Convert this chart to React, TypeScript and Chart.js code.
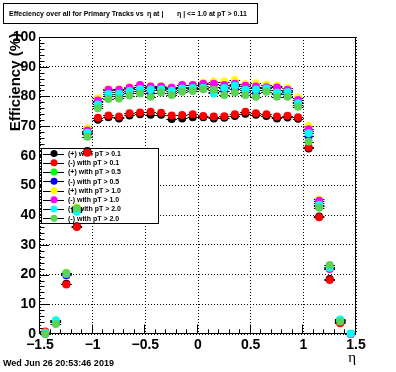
import { useEffect, useRef } from "react";
import { Chart, registerables } from "chart.js";

Chart.register(...registerables);

// ---- data ----
const etaBins = [
  -1.45, -1.35, -1.25, -1.15, -1.05, -0.95, -0.85, -0.75, -0.65, -0.55,
  -0.45, -0.35, -0.25, -0.15, -0.05, 0.05, 0.15, 0.25, 0.35, 0.45,
  0.55, 0.65, 0.75, 0.85, 0.95, 1.05, 1.15, 1.25, 1.35, 1.45,
];
const binHalfWidth = 0.05;

const effPosPt01 = [0.6, 4.2, 16.9, 36.3, 61.6, 72.1, 73.0, 72.6, 73.6, 74.0, 73.8, 73.8, 72.4, 72.6, 73.0, 73.0, 72.6, 72.8, 73.4, 74.2, 73.8, 73.4, 72.6, 72.9, 72.5, 62.5, 39.6, 18.5, 3.9, 0.0];
const effNegPt01 = [0.8, 4.0, 16.7, 36.0, 61.0, 72.8, 73.6, 73.2, 74.3, 74.6, 74.8, 74.5, 73.6, 73.7, 74.0, 73.4, 73.2, 73.3, 74.0, 74.8, 74.3, 74.0, 73.2, 73.5, 73.0, 62.9, 39.3, 18.2, 3.6, 0.0];
const effPosPt05 = [0.2, 4.3, 20.4, 41.8, 68.0, 78.0, 81.6, 81.6, 82.4, 83.2, 82.8, 82.8, 82.4, 83.2, 83.3, 83.6, 83.0, 83.3, 84.0, 82.9, 82.8, 82.9, 82.2, 81.8, 78.2, 68.2, 44.2, 22.0, 4.7, 0.0];
const effNegPt05 = [0.1, 4.0, 19.8, 41.5, 67.2, 76.8, 80.2, 80.3, 81.2, 81.9, 81.3, 82.0, 81.3, 82.3, 82.4, 82.7, 81.5, 81.8, 82.6, 81.4, 81.2, 82.2, 80.7, 80.8, 77.2, 66.5, 43.0, 22.6, 4.5, 0.0];
const effPosPt10 = [0.5, 4.6, 20.6, 42.6, 69.3, 79.4, 82.4, 82.4, 83.1, 83.8, 83.5, 83.4, 83.1, 83.9, 83.9, 84.6, 85.0, 85.0, 85.5, 84.2, 84.4, 84.0, 83.6, 82.8, 79.6, 70.0, 45.3, 22.6, 4.8, 0.0];
const effNegPt10 = [0.4, 4.4, 20.2, 42.0, 68.5, 78.6, 82.2, 82.2, 82.9, 83.8, 83.3, 83.3, 82.9, 83.8, 83.8, 84.3, 84.3, 83.8, 84.3, 83.6, 83.3, 83.1, 83.0, 82.2, 78.8, 68.9, 44.9, 21.9, 4.6, 0.0];
const effPosPt20 = [0.3, 4.6, 20.3, 41.2, 67.8, 77.3, 80.8, 80.9, 81.8, 82.5, 82.3, 82.4, 81.9, 82.7, 82.8, 82.9, 81.0, 82.8, 83.6, 82.2, 82.3, 82.7, 81.3, 81.5, 77.7, 67.6, 43.5, 22.3, 4.9, 0.2];
const effNegPt20: (number | null)[] = [0.0, 3.4, 20.5, 42.3, 66.4, 76.0, 79.1, 79.3, 80.3, 81.0, 79.9, 81.3, 80.5, 81.6, 81.8, 82.4, 82.2, 80.5, 81.3, 80.5, 79.9, 81.6, 79.9, 79.9, 76.5, 64.8, 42.5, 23.2, 4.2, null];

const seriesValues = [effPosPt01, effNegPt01, effPosPt05, effNegPt05, effPosPt10, effNegPt10, effPosPt20, effNegPt20];
const seriesLabels = [
  "(+) with pT > 0.1", "(-) with pT > 0.1",
  "(+) with pT > 0.5", "(-) with pT > 0.5",
  "(+) with pT > 1.0", "(-) with pT > 1.0",
  "(+) with pT > 2.0", "(-) with pT > 2.0",
];
const seriesColors = ["#000000", "#ff0000", "#00ff00", "#0000ff", "#ffff00", "#ff00ff", "#00ffff", "#59d454"];

const xTicks = [-1.5, -1, -0.5, 0, 0.5, 1, 1.5];
const yTicks = [0, 10, 20, 30, 40, 50, 60, 70, 80, 90, 100];

const titleMain = "Effeciency over all for Primary Tracks vs";
const titleEta1 = "\u03b7 at |";
const titleEta2 = "\u03b7 | <= 1.0 at pT > 0.11";
const yTitle = "Efficiency (%)";
const xTitle = "\u03b7";
const dateText = "Wed Jun 26 20:53:46 2019";

const FONT = '"Liberation Sans", Arial, Helvetica, sans-serif';
const SERIF = '"Liberation Serif", "DejaVu Serif", serif';

const fmtTick = (v: number) => (v < 0 ? "\u2212" + String(Math.abs(v)) : String(v));

const rootPlugin = {
  id: "rootDecor",
  beforeDatasetsDraw(chart: any) {
    const ctx = chart.ctx as CanvasRenderingContext2D;
    const { left, right, top, bottom } = chart.chartArea;
    const xs = chart.scales.x;
    const ys = chart.scales.y;
    ctx.save();
    ctx.setLineDash([]);
    ctx.strokeStyle = "#000";
    ctx.lineWidth = 1;
    ctx.strokeRect(Math.round(left) - 0.5, Math.round(top) + 0.5, Math.round(right - left), Math.round(bottom - top) - 1);
    // y ticks
    ctx.beginPath();
    for (let v = 0; v <= 100; v += 2) {
      const y = Math.round(ys.getPixelForValue(v)) + 0.5;
      const len = v % 10 === 0 ? 9 : 4.5;
      ctx.moveTo(left, y);
      ctx.lineTo(left + len, y);
    }
    // x ticks
    for (let k = -15; k <= 15; k++) {
      const x = Math.round(xs.getPixelForValue(k / 10)) - 0.5;
      const len = k % 5 === 0 ? 9.5 : 4.7;
      ctx.moveTo(x, bottom);
      ctx.lineTo(x, bottom - len);
    }
    ctx.stroke();

    // legend box (drawn before the markers, like the original)
    const bx = 41, by = 148, bw = 117, bh = 75;
    ctx.fillStyle = "#fff";
    ctx.fillRect(bx, by, bw, bh);
    ctx.strokeRect(bx + 0.5, by + 0.5, bw, bh);
    ctx.font = `bold 7px ${FONT}`;
    ctx.textBaseline = "middle";
    ctx.textAlign = "left";
    seriesLabels.forEach((lab, i) => {
      const yy = by + 5.5 + i * 9.25;
      ctx.beginPath();
      ctx.moveTo(43, Math.round(yy) + 0.5);
      ctx.lineTo(64, Math.round(yy) + 0.5);
      ctx.strokeStyle = "#000";
      ctx.stroke();
      ctx.beginPath();
      ctx.arc(54, yy, 3.5, 0, Math.PI * 2);
      ctx.fillStyle = seriesColors[i];
      ctx.fill();
      ctx.fillStyle = "#000";
      ctx.fillText(lab, 68, yy + 0.5);
    });
    ctx.restore();
  },
  beforeDatasetDraw(chart: any, args: any) {
    const ctx = chart.ctx as CanvasRenderingContext2D;
    const xs = chart.scales.x;
    const ds = chart.data.datasets[args.index];
    const meta = args.meta;
    ctx.save();
    ctx.strokeStyle = "#000";
    ctx.lineWidth = 1;
    ctx.beginPath();
    meta.data.forEach((el: any, j: number) => {
      const pt = ds.data[j];
      const y = Math.round(el.y) + 0.5;
      ctx.moveTo(xs.getPixelForValue(pt.x - binHalfWidth), y);
      ctx.lineTo(xs.getPixelForValue(pt.x + binHalfWidth), y);
    });
    ctx.stroke();
    ctx.restore();
  },
  afterDraw(chart: any) {
    const ctx = chart.ctx as CanvasRenderingContext2D;
    ctx.save();
    // title box
    ctx.strokeStyle = "#000";
    ctx.lineWidth = 1;
    ctx.fillStyle = "#fff";
    ctx.fillRect(3, 3, 254, 20);
    ctx.strokeRect(3.5, 3.5, 254, 20);
    ctx.fillStyle = "#000";
    ctx.textBaseline = "middle";
    ctx.textAlign = "left";
    ctx.font = `bold 7px ${FONT}`;
    ctx.fillText(titleMain, 9, 14);
    ctx.fillText(titleEta1, 147, 14);
    ctx.fillText(titleEta2, 177, 14);
    // date
    ctx.font = `bold 9px ${FONT}`;
    ctx.fillText(dateText, 3, 364);
    // x title
    ctx.font = `15px ${SERIF}`;
    ctx.textAlign = "right";
    ctx.fillText(xTitle, 356, 358);
    // y title
    ctx.font = `bold 15px ${FONT}`;
    ctx.translate(16, 33);
    ctx.rotate(-Math.PI / 2);
    ctx.textAlign = "right";
    ctx.fillText(yTitle, 0, 0);
    ctx.restore();
  },
};

export default function App() {
  const ref = useRef<HTMLCanvasElement>(null);
  useEffect(() => {
    document.body.style.margin = "0";
    const datasets = seriesValues.map((vals, i) => ({
      label: seriesLabels[i],
      data: etaBins
        .map((x, j) => ({ x, y: vals[j] as number | null }))
        .filter((p) => p.y !== null),
      backgroundColor: seriesColors[i],
      borderColor: seriesColors[i],
      pointRadius: 4,
      pointHoverRadius: 4,
      pointBorderWidth: 0,
      showLine: false,
      clip: false as any,
      order: seriesValues.length - 1 - i,
    }));
    const chart = new Chart(ref.current as HTMLCanvasElement, {
      type: "scatter",
      data: { datasets: datasets as any },
      plugins: [rootPlugin],
      options: {
        responsive: false,
        animation: false,
        events: [],
        layout: { padding: { top: 37, right: 40, left: 0, bottom: 0 } },
        plugins: { legend: { display: false }, tooltip: { enabled: false } },
        scales: {
          x: {
            type: "linear",
            min: -1.5,
            max: 1.5,
            afterBuildTicks: (axis: any) => {
              axis.ticks = xTicks.map((v) => ({ value: v }));
            },
            afterFit: (axis: any) => {
              axis.height = 38;
            },
            ticks: {
              autoSkip: false,
              maxRotation: 0,
              minRotation: 0,
              padding: 3,
              color: "#000",
              font: { family: FONT, size: 14, weight: "bold" },
              callback: (v: any) => fmtTick(Number(v)),
            },
            grid: { color: "#000", lineWidth: 1, drawTicks: false },
            border: { display: false, dash: [1, 2] },
          },
          y: {
            type: "linear",
            min: 0,
            max: 100,
            afterBuildTicks: (axis: any) => {
              axis.ticks = yTicks.map((v) => ({ value: v }));
            },
            afterFit: (axis: any) => {
              axis.width = 40;
            },
            ticks: {
              autoSkip: false,
              padding: 4,
              color: "#000",
              font: { family: FONT, size: 14, weight: "bold" },
              callback: (v: any) => fmtTick(Number(v)),
            },
            grid: { color: "#000", lineWidth: 1, drawTicks: false },
            border: { display: false, dash: [1, 2] },
          },
        },
      } as any,
    });
    return () => chart.destroy();
  }, []);
  return (
    <div style={{ width: 396, height: 372, background: "#fff" }}>
      <canvas ref={ref} width={396} height={372} style={{ display: "block", width: 396, height: 372 }} />
    </div>
  );
}
